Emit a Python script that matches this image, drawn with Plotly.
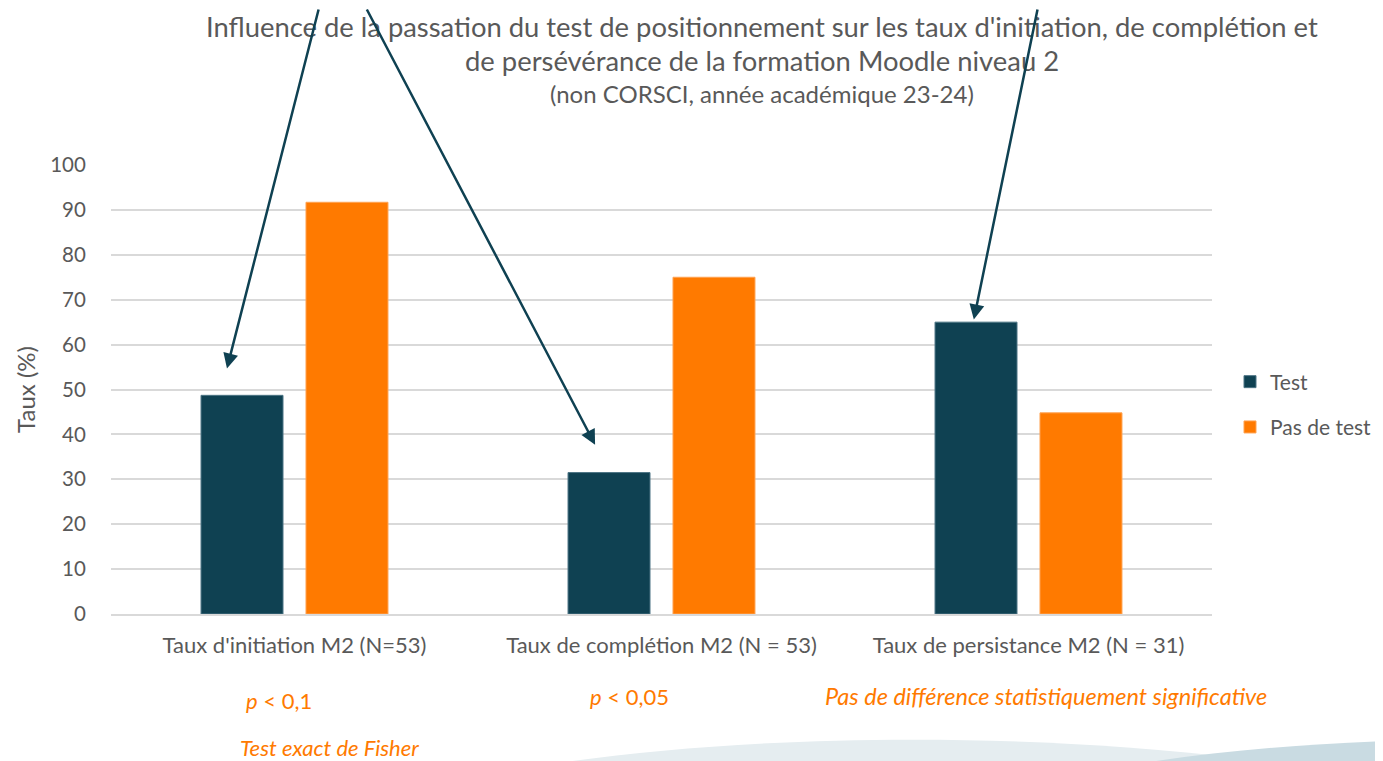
import plotly.graph_objects as go

# ---------------- data ----------------
categories = [
    "Taux d'initiation M2 (N=53)",
    "Taux de complétion M2 (N = 53)",
    "Taux de persistance M2 (N = 31)",
]
test_values = [48.7, 31.5, 65.0]
no_test_values = [91.7, 75.0, 44.8]
series_names = ["Test", "Pas de test"]
y_ticks = list(range(0, 101, 10))

title_line1 = "Influence de la passation du test de positionnement sur les taux d'initiation, de complétion et"
title_line2 = "de persévérance de la formation Moodle niveau 2"
title_line3 = "(non CORSCI, année académique 23-24)"

# ---------------- style ----------------
OFF = 8                       # page body margin in the browser
SCR_W, SCR_H = 1383, 761
W, H = SCR_W - OFF, SCR_H - OFF
PLOT_L, PLOT_R, PLOT_T, PLOT_B = 111, 1212, 165, 614   # screen pixels of the plot area
L, R, T, B = PLOT_L - OFF, W - (PLOT_R - OFF), PLOT_T - OFF, H - (PLOT_B - OFF)
FONT = "Lato, 'Open Sans', sans-serif"
GREY = "#595959"
TEAL = "#0f4152"
ORANGE = "#ff7a00"


def px(x):
    return (x - PLOT_L) / (PLOT_R - PLOT_L)


def py(y):
    return (PLOT_B - y) / (PLOT_B - PLOT_T)


fig = go.Figure()
fig.add_trace(go.Bar(
    x=categories, y=test_values, name=series_names[0],
    marker=dict(color=TEAL, line=dict(color="#4d7585", width=1)),
    legendgroup="a",
))
fig.add_trace(go.Bar(
    x=categories, y=no_test_values, name=series_names[1],
    marker=dict(color=ORANGE, line=dict(color="#ffa352", width=1)),
    legendgroup="b",
))

annotations = []
# title lines
for txt, yc, size in [(title_line1, 27, 27.4), (title_line2, 61, 27.4), (title_line3, 94, 24)]:
    annotations.append(dict(text=txt, xref="paper", yref="paper", x=px(762), y=py(yc),
                            xanchor="center", yanchor="middle", showarrow=False,
                            font=dict(family=FONT, size=size, color=GREY)))

# arrows pointing to the "Test" bars (tails start at the top edge of the picture)
arrow_specs = [  # (category index, x offset, y offset above bar, tail dx, tail dy)
    (0, -0.184, 6.0, 92, -377),
    (1, -0.181, 6.2, -229, -453),
    (2, -0.149, 0.6, 64, -328),
]
for i, dx, dy, ax, ay in arrow_specs:
    annotations.append(dict(text="", x=i + dx, y=test_values[i] + dy, xref="x", yref="y",
                            showarrow=True, ax=ax, ay=ay, arrowhead=2, arrowsize=1.2,
                            arrowwidth=2.5, arrowcolor=TEAL))

# statistical notes
ofont = dict(family=FONT, size=22, color=ORANGE)
annotations += [
    dict(text="<i>p</i> &lt; 0,1", xref="paper", yref="paper", x=px(244), y=py(700),
         xanchor="left", yanchor="middle", showarrow=False, font=ofont),
    dict(text="<i>p</i> &lt; 0,05", xref="paper", yref="paper", x=px(588), y=py(696),
         xanchor="left", yanchor="middle", showarrow=False, font=ofont),
    dict(text="<i>Test exact de Fisher</i>", xref="paper", yref="paper", x=px(238), y=py(747),
         xanchor="left", yanchor="middle", showarrow=False, font=ofont),
    dict(text="<i>Pas de différence statistiquement significative</i>", xref="paper", yref="paper",
         x=px(823), y=py(696), xanchor="left", yanchor="middle", showarrow=False,
         font=dict(family=FONT, size=23.5, color=ORANGE)),
]

shapes = [
    dict(type="path", xref="paper", yref="paper", layer="below", line=dict(width=0),
         fillcolor="#e5edf0",
         path=(f"M {px(545)} {py(765)} C {px(720)} {py(738)}, {px(980)} {py(728)}, "
               f"{px(1240)} {py(758)} L {px(1240)} {py(765)} Z")),
    dict(type="path", xref="paper", yref="paper", layer="below", line=dict(width=0),
         fillcolor="#c9dbe2",
         path=(f"M {px(1130)} {py(765)} C {px(1210)} {py(752)}, {px(1300)} {py(744)}, "
               f"{px(1390)} {py(741)} L {px(1390)} {py(765)} Z")),
]

fig.update_layout(
    width=W, height=H,
    margin=dict(l=L, r=R, t=T, b=B, autoexpand=False),
    paper_bgcolor="white", plot_bgcolor="white",
    font=dict(family=FONT, size=22, color=GREY),
    barmode="group", bargap=0.428, bargroupgap=0.219,
    showlegend=True,
    legend=dict(xref="container", yref="container",
                x=(1230 - OFF) / W, y=(H - (404.5 - OFF)) / H,
                xanchor="left", yanchor="middle",
                traceorder="grouped", tracegroupgap=15,
                font=dict(family=FONT, size=21, color=GREY), bgcolor="rgba(0,0,0,0)"),
    annotations=annotations,
    shapes=shapes,
    xaxis=dict(showline=True, linecolor="#d9d9d9", linewidth=1.5, showgrid=False,
               ticks="outside", ticklen=11, tickcolor="rgba(0,0,0,0)",
               tickfont=dict(family=FONT, size=22, color=GREY)),
    yaxis=dict(range=[0, 100], tickvals=y_ticks, showgrid=True, gridcolor="#d9d9d9",
               gridwidth=1.5, zeroline=False, showline=False,
               ticks="outside", ticklen=20, tickcolor="rgba(0,0,0,0)",
               tickfont=dict(family=FONT, size=20.5, color=GREY),
               title=dict(text="Taux (%)", standoff=7,
                          font=dict(family=FONT, size=24, color=GREY))),
)

fig.write_html("out.html")
